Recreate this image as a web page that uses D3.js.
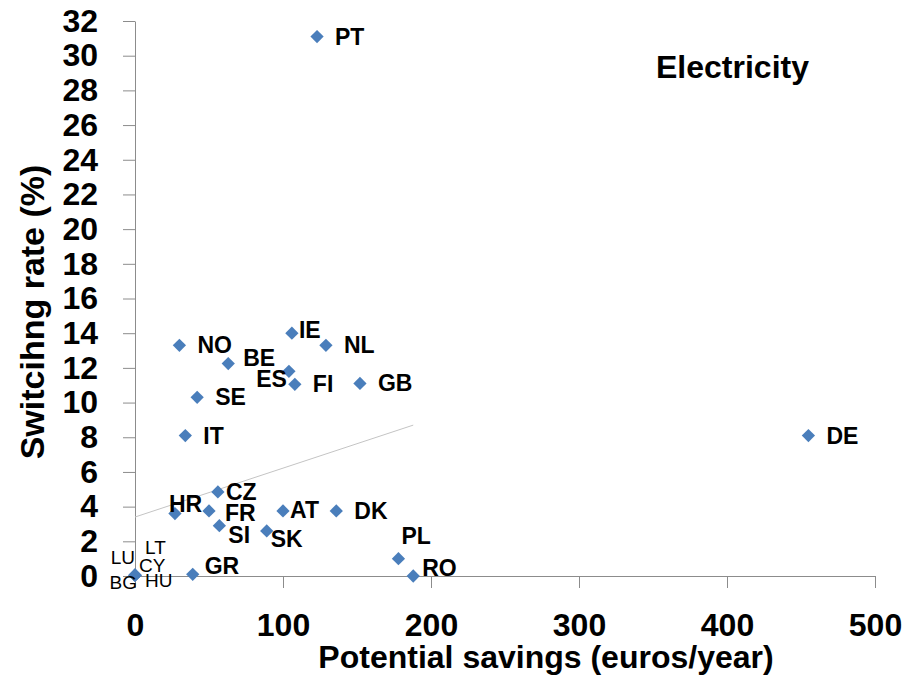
<!DOCTYPE html>
<html>
<head>
<meta charset="utf-8">
<script src="https://cdnjs.cloudflare.com/ajax/libs/d3/7.8.5/d3.min.js"></script>
<style>
    html, body {
        margin: 0;
        padding: 0;
        background: #fff;
    }
    svg text {
        font-family: "Liberation Sans", Arial, sans-serif;
        fill: #000;
    }
</style>
</head>
<body>
<svg id="chart" width="920" height="677"></svg>
<script>

// data
var countries = ["PT", "DE", "NO", "BE", "IE", "NL", "ES", "FI", "GB", "SE", "IT",
                 "CZ", "HR", "FR", "SI", "AT", "DK", "SK", "PL", "RO", "GR",
                 "LU", "LT", "CY", "BG", "HU"];
var savings   = [123, 455, 30, 63, 106, 129, 104, 108, 152, 42, 34,
                 56, 27, 50, 57, 100, 136, 89, 178, 188, 39,
                 0, 0, 0, 0, 0];
var switching = [31.1, 8.1, 13.3, 12.25, 14.0, 13.3, 11.8, 11.05, 11.1, 10.3, 8.1,
                 4.85, 3.6, 3.75, 2.9, 3.75, 3.75, 2.6, 1.0, 0.0, 0.1,
                 0.05, 0.05, 0.05, 0.05, 0.05];
var smallLabels = ["LU", "LT", "CY", "BG", "HU"];

var xTicks = [0, 100, 200, 300, 400, 500];
var yTicks = d3.range(0, 33, 2);

// trend line end points (savings, switching)
var trendX = [0, 188];
var trendY = [3.4, 8.7];

// where each label sits relative to its marker
var labelOffsets = {
    BE: [15, -6], IE: [7, -3], ES: [-2, 8, "end"], CZ: [8, 0],
    HR: [-6, -10], FR: [16, 2], SI: [9, 9], AT: [7, -1], SK: [4, 8],
    PL: [3, -23], RO: [9, -8], GR: [12, -8],
    LU: [0, -18, "end"], LT: [10, -28], CY: [4, -10], BG: [2, 7, "end"], HU: [10, 5]
};

var svg = d3.select("#chart");

var x = d3.scaleLinear().domain([0, 500]).range([135, 875]);
var y = d3.scaleLinear().domain([0, 32]).range([576, 21]);

// axes
var yAxis = svg.append("g")
    .attr("transform", "translate(" + x(0) + ",0)")
    .call(d3.axisLeft(y).tickValues(yTicks).tickSize(12).tickSizeOuter(0).tickPadding(25));

var xAxis = svg.append("g")
    .attr("transform", "translate(0," + y(0) + ")")
    .call(d3.axisBottom(x).tickValues(xTicks).tickSize(12).tickSizeOuter(0));

[yAxis, xAxis].forEach(function(g) {
    g.select(".domain").attr("stroke", "#8c8c8c");
    g.selectAll(".tick line").attr("stroke", "#8c8c8c");
    g.selectAll(".tick text")
        .style("font-family", "'Liberation Sans', Arial, sans-serif")
        .style("font-size", "32px")
        .style("font-weight", "bold")
        .attr("fill", "#000");
});

xAxis.selectAll(".tick text").attr("y", 60).attr("dy", 0);

// trend line
svg.append("line")
    .attr("x1", x(trendX[0])).attr("y1", y(trendY[0]))
    .attr("x2", x(trendX[1])).attr("y2", y(trendY[1]))
    .attr("stroke", "#c4c4c4")
    .attr("stroke-width", 1);

// points
var diamond = d3.symbol().type(d3.symbolSquare).size(88);

svg.append("g").selectAll("path")
    .data(countries)
    .join("path")
    .attr("d", diamond)
    .attr("transform", function(d, i) {
        return "translate(" + x(savings[i]) + "," + y(switching[i]) + ") rotate(45)";
    })
    .attr("fill", "#4a7ebb");

// labels
svg.append("g").selectAll("text")
    .data(countries)
    .join("text")
    .attr("x", function(d, i) {
        var o = labelOffsets[d] || [18, 0];
        return x(savings[i]) + o[0];
    })
    .attr("y", function(d, i) {
        var o = labelOffsets[d] || [18, 0];
        return y(switching[i]) + o[1];
    })
    .attr("dominant-baseline", "central")
    .attr("text-anchor", function(d) {
        var o = labelOffsets[d];
        return o && o[2] ? o[2] : "start";
    })
    .style("font-size", function(d) { return smallLabels.indexOf(d) >= 0 ? "19px" : "23px"; })
    .style("font-weight", function(d) { return smallLabels.indexOf(d) >= 0 ? "normal" : "bold"; })
    .text(function(d) { return d; });

// titles
svg.append("text")
    .attr("x", 656)
    .attr("y", 78)
    .style("font-size", "32px")
    .style("font-weight", "bold")
    .text("Electricity");

svg.append("text")
    .attr("x", 546)
    .attr("y", 668)
    .attr("text-anchor", "middle")
    .style("font-size", "32px")
    .style("font-weight", "bold")
    .text("Potential savings (euros/year)");

svg.append("text")
    .attr("transform", "translate(44,312) rotate(-90)")
    .attr("text-anchor", "middle")
    .style("font-size", "34px")
    .style("font-weight", "bold")
    .text("Switcihng rate (%)");

</script>
</body>
</html>
